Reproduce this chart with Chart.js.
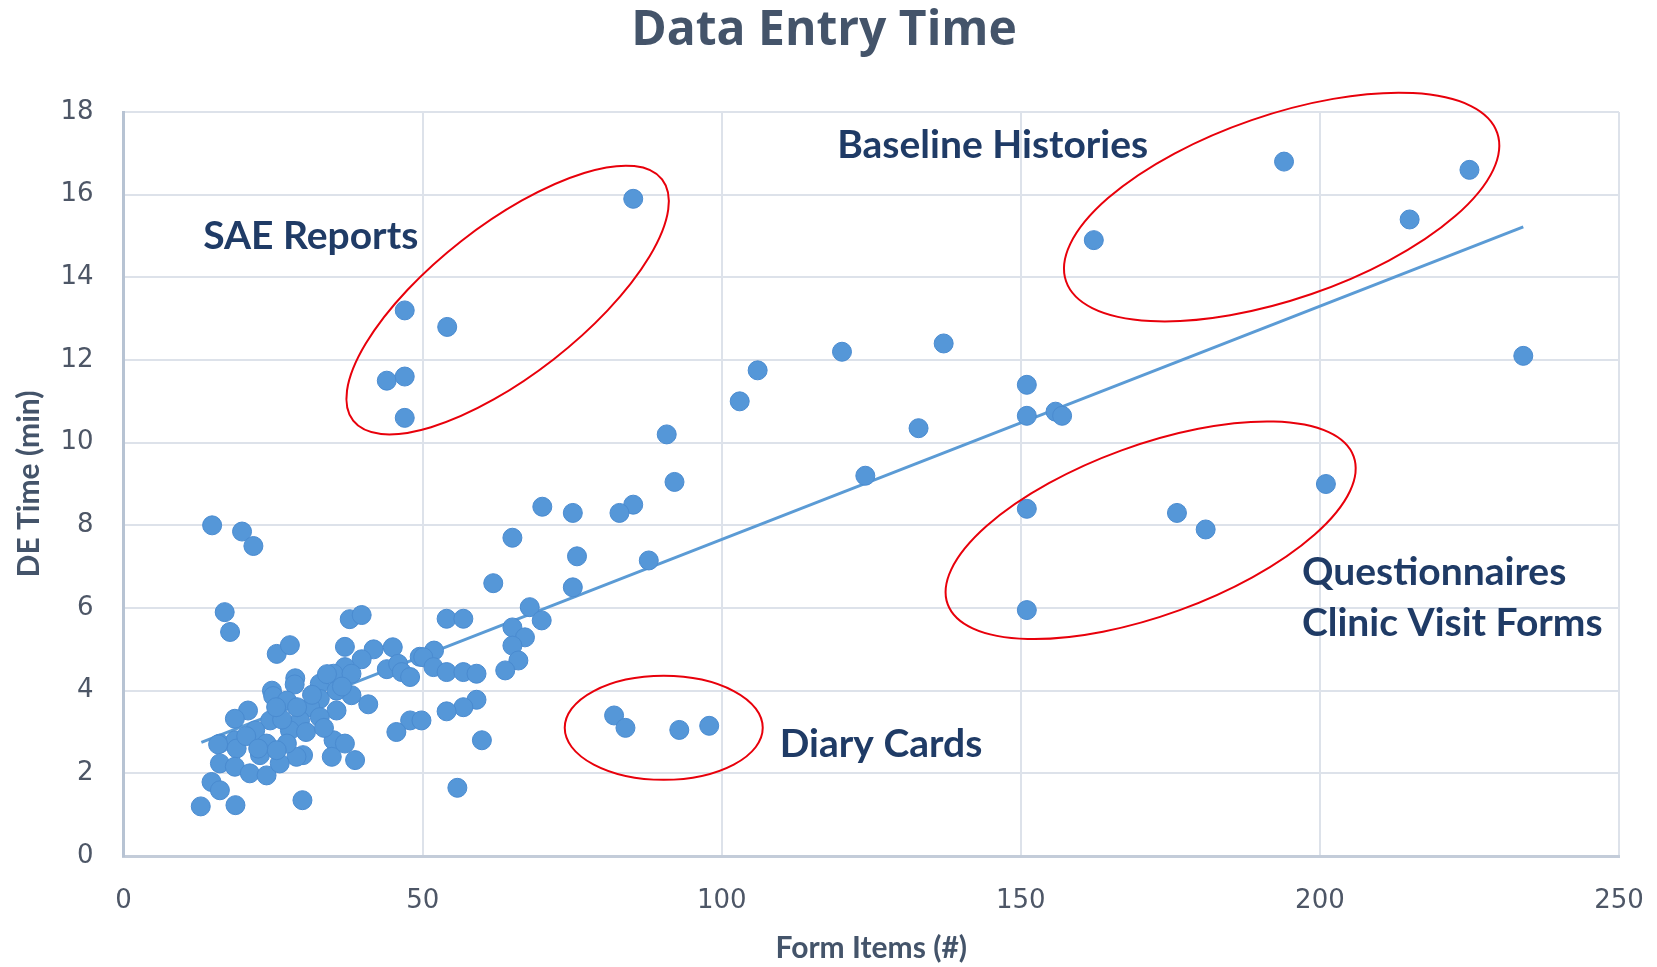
<!DOCTYPE html>
<html>
<head>
<meta charset="utf-8">
<title>Data Entry Time</title>
<script src="https://cdn.jsdelivr.net/npm/chart.js@4.4.1/dist/chart.umd.min.js"></script>
<style>
  html, body { margin: 0; padding: 0; background: #fff; }
  #wrap { width: 1657px; height: 967px; }
</style>
</head>
<body>
<div id="wrap"><canvas id="myChart" width="1657" height="967"></canvas></div>
<script>
// form items (#) and data entry time (min)
var formItems = [
    85.2, 47, 54.1, 44, 47, 47,
    194, 225, 215, 162.2, 234,
    120.1, 137.1, 106, 103,
    151, 151, 155.8, 156.9, 132.9,
    90.8, 92.1, 124, 201,
    151, 176.1, 180.9, 151,
    70, 75.1, 85.2, 82.9, 65, 75.8, 87.8, 75.1, 61.8,
    14.8, 19.8, 21.7, 16.9, 17.8,
    82, 83.9, 92.9, 97.9,
    55.8, 29.9, 18.7, 12.9, 59.9,
    37.8, 39.8, 54.0, 56.8,
    25.6, 27.8, 37.0, 41.8, 45.0, 49.5, 51.9,
    39.8, 44.0, 45.9, 46.5, 47.9, 50.1, 51.8, 54.0, 56.8, 59.0,
    59.0, 56.8, 54.0, 47.9, 49.8, 45.6,
    40.9, 38.1, 37.0, 35.1, 38.1, 32.8, 35.6, 32.8, 35.6, 31.2, 32.8, 29.5,
    35.1, 37.0, 34.8, 38.7, 30.0, 28.9,
    67.9, 69.9, 65.0, 67.1, 65.0, 66.0, 63.8,
    28.7, 28.6, 24.8, 25.0, 27.3, 20.8, 18.6, 24.5, 22.0, 27.8,
    16.1, 18.7, 23.9, 27.3,
    15.8, 18.9, 16.1, 18.6, 22.8, 21.1, 23.9, 26.1, 25.6, 14.7, 16.1,
    20.5, 22.5, 26.5, 30.5, 33.5, 25.5, 29.0, 31.5, 34.0, 36.5
];
var deTimes = [
    15.9, 13.2, 12.8, 11.5, 11.6, 10.6,
    16.8, 16.6, 15.4, 14.9, 12.1,
    12.2, 12.4, 11.75, 11.0,
    11.4, 10.65, 10.75, 10.65, 10.35,
    10.2, 9.05, 9.2, 9.0,
    8.4, 8.3, 7.9, 5.95,
    8.45, 8.3, 8.5, 8.3, 7.7, 7.25, 7.15, 6.5, 6.6,
    8.0, 7.85, 7.5, 5.9, 5.42,
    3.4, 3.1, 3.05, 3.15,
    1.65, 1.35, 1.23, 1.2, 2.8,
    5.73, 5.83, 5.74, 5.74,
    4.89, 5.1, 5.06, 5.0, 5.05, 4.82, 4.97,
    4.76, 4.52, 4.65, 4.45, 4.33, 4.81, 4.57, 4.45, 4.45, 4.41,
    3.78, 3.6, 3.5, 3.28, 3.28, 3.0,
    3.67, 3.89, 4.57, 4.41, 4.41, 4.17, 4.0, 3.8, 3.52, 3.6, 3.36, 3.28,
    2.8, 2.72, 2.4, 2.32, 2.44, 2.4,
    6.02, 5.7, 5.53, 5.29, 5.09, 4.73, 4.49,
    4.3, 4.15, 4.0, 3.87, 3.76, 3.52, 3.32, 3.28, 3.04, 3.04,
    2.72, 2.8, 2.72, 2.72,
    2.7, 2.6, 2.24, 2.16, 2.44, 2.0, 1.95, 2.24, 2.56, 1.79, 1.59,
    2.9, 2.6, 3.3, 3.0, 3.1, 3.6, 3.6, 3.9, 4.4, 4.1
];

// linear trendline end points
var trendX = [13, 234];
var trendY = [2.75, 15.22];

// axis ranges
var xTicks = [0, 50, 100, 150, 200, 250];
var yTicks = [0, 2, 4, 6, 8, 10, 12, 14, 16, 18];

// callout labels (anchored at left edge, in data units)
var labelText = ['SAE Reports', 'Baseline Histories', 'Questionnaires', 'Clinic Visit Forms', 'Diary Cards'];
var labelX = [13.3, 119.3, 197, 197, 109.7];
var labelY = [15.0, 17.2, 6.86, 5.63, 2.7];

// red ellipses: centre in data units, radii in px, tilt in degrees
var ringX = [64.2, 193.6, 171.7, 90.3];
var ringY = [13.45, 15.7, 7.88, 3.1];
var ringRx = [196, 228, 216, 99];
var ringRy = [75, 92, 85, 52];
var ringTilt = [-38, -19, -20, 0];

var points = formItems.map(function (x, i) { return { x: x, y: deTimes[i] }; });
var trend = trendX.map(function (x, i) { return { x: x, y: trendY[i] }; });

var calloutPlugin = {
    id: 'callouts',
    afterDatasetsDraw: function (chart) {
        var ctx = chart.ctx;
        var xs = chart.scales.x, ys = chart.scales.y;
        ctx.save();
        ctx.strokeStyle = '#e8000b';
        ctx.lineWidth = 2;
        for (var i = 0; i < ringX.length; i++) {
            ctx.beginPath();
            ctx.ellipse(xs.getPixelForValue(ringX[i]), ys.getPixelForValue(ringY[i]),
                ringRx[i], ringRy[i], ringTilt[i] * Math.PI / 180, 0, Math.PI * 2);
            ctx.stroke();
        }
        ctx.fillStyle = '#1f3b66';
        ctx.font = 'bold 39px Lato';
        ctx.textAlign = 'left';
        ctx.textBaseline = 'middle';
        for (var j = 0; j < labelText.length; j++) {
            ctx.fillText(labelText[j], xs.getPixelForValue(labelX[j]), ys.getPixelForValue(labelY[j]));
        }
        // chart title
        ctx.fillStyle = '#44546a';
        ctx.font = 'bold 48px "Open Sans"';
        ctx.textAlign = 'center';
        ctx.fillText('Data Entry Time', 824, 31);
        ctx.restore();
    }
};

var ctx = document.getElementById('myChart').getContext('2d');
var myChart = new Chart(ctx, {
    type: 'scatter',
    data: {
        datasets: [{
            label: 'DE Time',
            data: points,
            backgroundColor: '#5597d8',
            borderColor: '#4a8bd0',
            borderWidth: 1,
            pointRadius: 9.5,
            order: 1
        }, {
            label: 'Trend',
            data: trend,
            showLine: true,
            borderColor: '#5b9bd5',
            borderWidth: 3,
            pointRadius: 0,
            fill: false,
            order: 2
        }]
    },
    options: {
        responsive: false,
        animation: false,
        devicePixelRatio: 1,
        layout: { padding: { top: 112, right: 38, left: 0, bottom: 0 } },
        plugins: {
            legend: { display: false },
            tooltip: { enabled: false },
            title: { display: false }
        },
        scales: {
            x: {
                type: 'linear',
                min: 0,
                max: 250,
                afterBuildTicks: function (s) { s.ticks = xTicks.map(function (v) { return { value: v }; }); },
                afterFit: function (s) { s.height = 111; s.paddingLeft = 0; s.paddingRight = 0; },
                grid: { color: '#dde2ea', lineWidth: 2, drawTicks: false },
                border: { color: '#c3ccd9', width: 3 },
                ticks: { padding: 30, color: '#4d5666', font: { family: 'DejaVu Sans', size: 26 } },
                title: {
                    display: true,
                    text: 'Form Items (#)',
                    color: '#44546a',
                    font: { family: 'Lato', size: 30, weight: 'bold' },
                    padding: { top: 0, bottom: 1 }
                }
            },
            y: {
                type: 'linear',
                min: 0,
                max: 18,
                afterBuildTicks: function (s) { s.ticks = yTicks.map(function (v) { return { value: v }; }); },
                afterFit: function (s) { s.width = 123.6; s.paddingTop = 0; s.paddingBottom = 0; },
                grid: { color: '#dde2ea', lineWidth: 2, drawTicks: false },
                border: { color: '#b7c3d3', width: 3 },
                ticks: { padding: 30, color: '#4d5666', font: { family: 'DejaVu Sans', size: 26 } },
                title: {
                    display: true,
                    text: 'DE Time (min)',
                    color: '#44546a',
                    font: { family: 'Lato', size: 30, weight: 'bold' },
                    padding: { top: 11, bottom: 0 }
                }
            }
        }
    },
    plugins: [calloutPlugin]
});
</script>
</body>
</html>
